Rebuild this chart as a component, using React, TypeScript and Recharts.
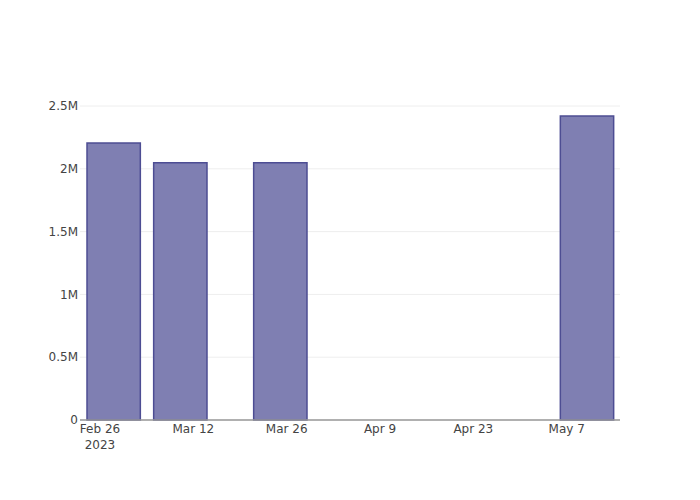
import { Bar, BarChart, CartesianGrid, XAxis, YAxis } from 'recharts';

const barDates = ['2023-02-28', '2023-03-10', '2023-03-25', '2023-05-10'];
const barValues = [2205000, 2048000, 2048000, 2420000];

const tickDates = ['2023-02-26', '2023-03-12', '2023-03-26', '2023-04-09', '2023-04-23', '2023-05-07'];
const tickLabels = ['Feb 26', 'Mar 12', 'Mar 26', 'Apr 9', 'Apr 23', 'May 7'];

const yTicks = [0, 500000, 1000000, 1500000, 2000000, 2500000];
const yMax = 2548000;

const FONT = "'DejaVu Sans', verdana, arial, sans-serif";
const toTime = (d: string) => Date.parse(d + 'T00:00:00Z');

const data = barDates.map((d, i) => ({ t: toTime(d), value: barValues[i] }));
const ticks = tickDates.map(toTime);

// plotly-ish: domain padded by half the smallest gap between bars
const times = data.map((p) => p.t);
let minGap = Infinity;
for (let i = 1; i < times.length; i++) minGap = Math.min(minGap, times[i] - times[i - 1]);
const xDomain = [times[0] - minGap / 2, times[times.length - 1] + minGap / 2];

const plotWidth = 540;
const barPx = ((minGap * 0.8) / (xDomain[1] - xDomain[0])) * plotWidth;

const formatY = (v: number) => (v === 0 ? '0' : `${v / 1000000}M`);

function DateTick(props: any) {
  const { x, y, payload, index } = props;
  const i = ticks.indexOf(payload.value);
  const label = i >= 0 ? tickLabels[i] : '';
  return (
    <g>
      <text x={x} y={y + 13} textAnchor="middle" fill="#444" fontSize={12} fontFamily={FONT}>
        {label}
      </text>
      {index === 0 && (
        <text x={x} y={y + 29} textAnchor="middle" fill="#444" fontSize={12} fontFamily={FONT}>
          2023
        </text>
      )}
    </g>
  );
}

export default function App() {
  return (
    <div style={{ position: 'absolute', left: 0, top: 0, width: 700, height: 500, background: '#fff' }}>
      <BarChart width={700} height={500} data={data} margin={{ top: 100, right: 80, bottom: 0, left: 0 }}>
        <CartesianGrid vertical={false} horizontalValues={yTicks} stroke="#eee" strokeWidth={1} />
        <XAxis
          dataKey="t"
          type="number"
          scale="linear"
          domain={xDomain}
          ticks={ticks}
          tick={<DateTick />}
          tickLine={false}
          tickSize={0}
          tickMargin={0}
          height={80}
          stroke="#999"
          strokeWidth={1.5}
          allowDataOverflow
          interval={0}
        />
        <YAxis
          type="number"
          domain={[0, yMax]}
          ticks={yTicks}
          tickFormatter={formatY}
          axisLine={false}
          tickLine={false}
          tickSize={0}
          tickMargin={2}
          width={80}
          interval={0}
          tick={{ fill: '#444', fontSize: 12, fontFamily: FONT }}
        />
        <Bar
          dataKey="value"
          barSize={barPx}
          fill="#7f7fb2"
          stroke="#4d4d93"
          strokeWidth={1.5}
          isAnimationActive={false}
        />
      </BarChart>
    </div>
  );
}
